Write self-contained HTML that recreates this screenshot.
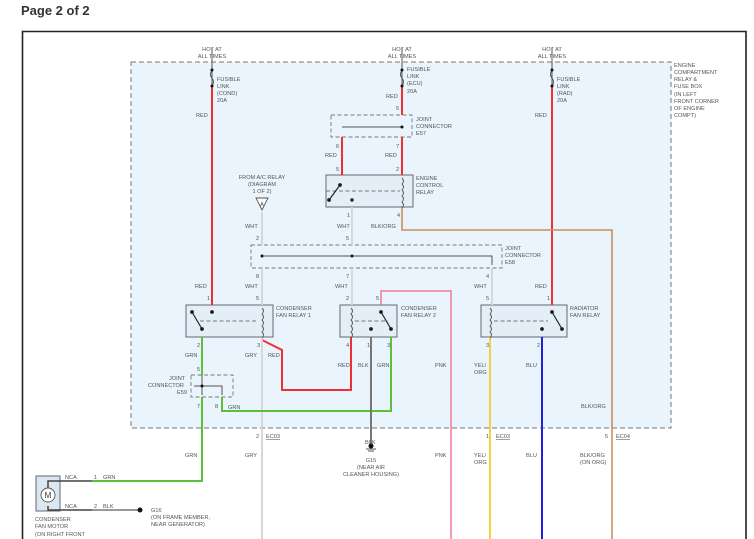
<!DOCTYPE html>
<html><head><meta charset="utf-8"><style>
html,body{margin:0;padding:0;background:#fff;}
svg{display:block;font-family:"Liberation Sans",sans-serif;}
.t{font-size:5.6px;fill:#555;}
</style></head><body>
<svg width="754" height="539" viewBox="0 0 754 539" xmlns="http://www.w3.org/2000/svg">
<text x="21" y="15" font-size="13" font-weight="bold" fill="#333">Page 2 of 2</text>
<path d="M22.5 539 V31.5 H746 V539" fill="none" stroke="#222" stroke-width="1.6"/>
<rect x="131" y="62" width="540" height="366" fill="#e9f4fc" stroke="#777" stroke-width="1" stroke-dasharray="5,3"/>

<g fill="#e3eef6" stroke="#667" stroke-width="1">
<rect x="326" y="175" width="87" height="32"/>
<rect x="186" y="305" width="87" height="32"/>
<rect x="340" y="305" width="57" height="32"/>
<rect x="481" y="305" width="86" height="32"/>
<rect x="36" y="476" width="24" height="35" fill="#dbe8f2"/>
</g>
<g fill="none" stroke="#777" stroke-dasharray="4,2.5" stroke-width="0.9">
<rect x="331" y="115" width="81" height="22"/>
<rect x="251" y="245" width="251" height="23"/>
<rect x="191" y="375" width="42" height="22"/>
<path d="M326 191 H400 M200 321 H258 M355 321 H388 M494 321 H548"/>
</g>

<g fill="none" stroke-width="2">
<path d="M212 85 V305" stroke="#f03030"/>
<path d="M402 85 V115 M402 137 V175 M342 137 V175" stroke="#f03030"/>
<path d="M552 85 V305" stroke="#f03030"/>
<path d="M262 340 L282 350 V390 H351 V337" stroke="#f03030"/>
<path d="M402 207 V230 H612 V539" stroke="#c8905a" stroke-width="1.6"/>
<path d="M262 212 V245 M262 268 V305 M262 337 V539 M352 207 V245 M352 268 V305 M492 268 V305" stroke="#d4d4d4" stroke-width="1.8"/>
<path d="M202 337 V375 M202 397 V481 H92 M222 397 V411 H391 V337" stroke="#5cbf3a"/>
<path d="M371 337 V447" stroke="#777"/>
<path d="M92 510 H140" stroke="#777" stroke-width="1.5"/>
<path d="M381 305 V291 H451 V539" stroke="#f07a98" stroke-width="1.5"/>
<path d="M490 337 V539" stroke="#f5d040"/>
<path d="M542 337 V539" stroke="#2020e0"/>
<path d="M212 48 V85 M402 48 V85 M552 48 V85" stroke="#555" stroke-width="1"/>
<path d="M342 127 H402 M262 256 H492 V265 M194 386 H222 V395 M202 375 V395" stroke="#555" stroke-width="1"/>
<path d="M60 481 H92 M60 510 H92 M60 481 H48 V490 M60 510 H48 V506" stroke="#444" stroke-width="1.5"/>
</g>
<g fill="#fff" stroke="#555" stroke-width="1">
<path d="M212 70 q-3 5 0 8 q3 4 0 8 M402 70 q-3 5 0 8 q3 4 0 8 M552 70 q-3 5 0 8 q3 4 0 8" fill="none"/>
</g>
<g fill="#111">
<circle cx="212" cy="70" r="1.5"/><circle cx="212" cy="86" r="1.5"/>
<circle cx="402" cy="70" r="1.5"/><circle cx="402" cy="86" r="1.5"/>
<circle cx="552" cy="70" r="1.5"/><circle cx="552" cy="86" r="1.5"/>
<circle cx="402" cy="127" r="1.5"/><circle cx="262" cy="256" r="1.5"/><circle cx="352" cy="256" r="1.5"/>
<circle cx="202" cy="386" r="1.5"/><circle cx="371" cy="446" r="2.5"/><circle cx="140" cy="510" r="2.5"/>
</g>
<g stroke="#222" stroke-width="1.2" fill="#111">
<path d="M340 185 L329 200"/><circle cx="340" cy="185" r="1.3"/><circle cx="329" cy="200" r="1.3"/>
<path d="M192 312 L202 329"/><circle cx="192" cy="312" r="1.3"/><circle cx="202" cy="329" r="1.3"/><circle cx="212" cy="312" r="1.3"/>
<path d="M381 312 L391 329"/><circle cx="381" cy="312" r="1.3"/><circle cx="391" cy="329" r="1.3"/><circle cx="371" cy="329" r="1.3"/>
<path d="M552 312 L562 329"/><circle cx="552" cy="312" r="1.3"/><circle cx="562" cy="329" r="1.3"/><circle cx="542" cy="329" r="1.3"/>
<circle cx="352" cy="200" r="1.1"/>
</g>
<g fill="none" stroke="#555" stroke-width="0.9">
<path d="M402 178 q3 3 0 6 q3 3 0 6 q3 3 0 6 q3 3 0 6 q3 3 0 6"/>
<path d="M262 308 q3 3 0 6 q3 3 0 6 q3 3 0 6 q3 3 0 6 q3 3 0 6"/>
<path d="M351 308 q3 3 0 6 q3 3 0 6 q3 3 0 6 q3 3 0 6 q3 3 0 6"/>
<path d="M490 308 q3 3 0 6 q3 3 0 6 q3 3 0 6 q3 3 0 6 q3 3 0 6"/>
<path d="M256 198 h12 l-6 12 z" fill="#fff"/>
<circle cx="48" cy="495" r="7" fill="#fff"/>
<path d="M366 449 h10 M368 451 h6"/>
</g>
<text x="48" y="498" font-size="8" text-anchor="middle" fill="#333">M</text>
<text x="262" y="206" font-size="5" text-anchor="middle" fill="#333">A</text>

<g class="t">
<text x="212" y="51" text-anchor="middle">HOT AT</text><text x="212" y="58" text-anchor="middle">ALL TIMES</text>
<text x="402" y="51" text-anchor="middle">HOT AT</text><text x="402" y="58" text-anchor="middle">ALL TIMES</text>
<text x="552" y="51" text-anchor="middle">HOT AT</text><text x="552" y="58" text-anchor="middle">ALL TIMES</text>
<text x="217" y="81">FUSIBLE</text><text x="217" y="88">LINK</text><text x="217" y="95">(COND)</text><text x="217" y="102">20A</text>
<text x="407" y="71">FUSIBLE</text><text x="407" y="78">LINK</text><text x="407" y="85">(ECU)</text><text x="407" y="93">20A</text>
<text x="557" y="81">FUSIBLE</text><text x="557" y="88">LINK</text><text x="557" y="95">(RAD)</text><text x="557" y="102">20A</text>
<text x="674" y="67">ENGINE</text><text x="674" y="74">COMPARTMENT</text><text x="674" y="81">RELAY &amp;</text><text x="674" y="88">FUSE BOX</text><text x="674" y="96">(IN LEFT</text><text x="674" y="103">FRONT CORNER</text><text x="674" y="110">OF ENGINE</text><text x="674" y="117">COMPT)</text>
<text x="196" y="117">RED</text><text x="386" y="98">RED</text><text x="535" y="117">RED</text>
<text x="396" y="110">5</text>
<text x="416" y="121">JOINT</text><text x="416" y="128">CONNECTOR</text><text x="416" y="135">E57</text>
<text x="336" y="148">6</text><text x="396" y="148">7</text>
<text x="325" y="157">RED</text><text x="385" y="157">RED</text>
<text x="336" y="171">5</text><text x="396" y="171">2</text>
<text x="416" y="180">ENGINE</text><text x="416" y="187">CONTROL</text><text x="416" y="194">RELAY</text>
<text x="347" y="217">1</text><text x="397" y="217">4</text>
<text x="337" y="228">WHT</text><text x="371" y="228">BLK/ORG</text><text x="245" y="228">WHT</text>
<text x="262" y="179" text-anchor="middle">FROM A/C RELAY</text><text x="262" y="186" text-anchor="middle">(DIAGRAM</text><text x="262" y="193" text-anchor="middle">1 OF 2)</text>
<text x="256" y="240">2</text><text x="346" y="240">5</text>
<text x="505" y="250">JOINT</text><text x="505" y="257">CONNECTOR</text><text x="505" y="264">E58</text>
<text x="256" y="278">8</text><text x="346" y="278">7</text><text x="486" y="278">4</text>
<text x="245" y="288">WHT</text><text x="335" y="288">WHT</text><text x="474" y="288">WHT</text><text x="535" y="288">RED</text><text x="195" y="288">RED</text>
<text x="207" y="300">1</text><text x="256" y="300">5</text><text x="346" y="300">2</text><text x="376" y="300">5</text><text x="486" y="300">5</text><text x="547" y="300">1</text>
<text x="276" y="310">CONDENSER</text><text x="276" y="317">FAN RELAY 1</text>
<text x="401" y="310">CONDENSER</text><text x="401" y="317">FAN RELAY 2</text>
<text x="570" y="310">RADIATOR</text><text x="570" y="317">FAN RELAY</text>
<text x="197" y="347">2</text><text x="257" y="347">3</text><text x="346" y="347">4</text><text x="367" y="347">1</text><text x="387" y="347">3</text><text x="486" y="347">3</text><text x="537" y="347">2</text>
<text x="185" y="357">GRN</text><text x="245" y="357">GRY</text><text x="268" y="357">RED</text>
<text x="338" y="367">RED</text><text x="358" y="367">BLK</text><text x="377" y="367">GRN</text><text x="435" y="367">PNK</text>
<text x="474" y="367">YEL/</text><text x="474" y="374">ORG</text><text x="526" y="367">BLU</text>
<text x="197" y="371">5</text>
<text x="169" y="380">JOINT</text><text x="148" y="387">CONNECTOR</text><text x="177" y="394">E59</text>
<text x="197" y="408">7</text><text x="215" y="408">8</text><text x="228" y="409">GRN</text>
<text x="581" y="408">BLK/ORG</text>
<text x="256" y="438">2</text><text x="266" y="438" text-decoration="underline">EC03</text>
<text x="486" y="438">1</text><text x="496" y="438" text-decoration="underline">EC03</text>
<text x="605" y="438">5</text><text x="616" y="438" text-decoration="underline">EC04</text>
<text x="365" y="444">BLK</text>
<text x="185" y="457">GRN</text><text x="245" y="457">GRY</text><text x="435" y="457">PNK</text>
<text x="474" y="457">YEL/</text><text x="474" y="464">ORG</text><text x="526" y="457">BLU</text>
<text x="580" y="457">BLK/ORG</text><text x="580" y="464">(ON ORG)</text>
<text x="371" y="462" text-anchor="middle">G15</text><text x="371" y="469" text-anchor="middle">(NEAR AIR</text><text x="371" y="476" text-anchor="middle">CLEANER HOUSING)</text>
<text x="65" y="479">NCA</text><text x="94" y="479">1</text><text x="103" y="479">GRN</text>
<text x="65" y="508">NCA</text><text x="94" y="508">2</text><text x="103" y="508">BLK</text>
<text x="151" y="512">G16</text><text x="151" y="519">(ON FRAME MEMBER,</text><text x="151" y="526">NEAR GENERATOR)</text>
<text x="35" y="521">CONDENSER</text><text x="35" y="528">FAN MOTOR</text><text x="35" y="536">(ON RIGHT FRONT</text>
</g>
</svg>
</body></html>
